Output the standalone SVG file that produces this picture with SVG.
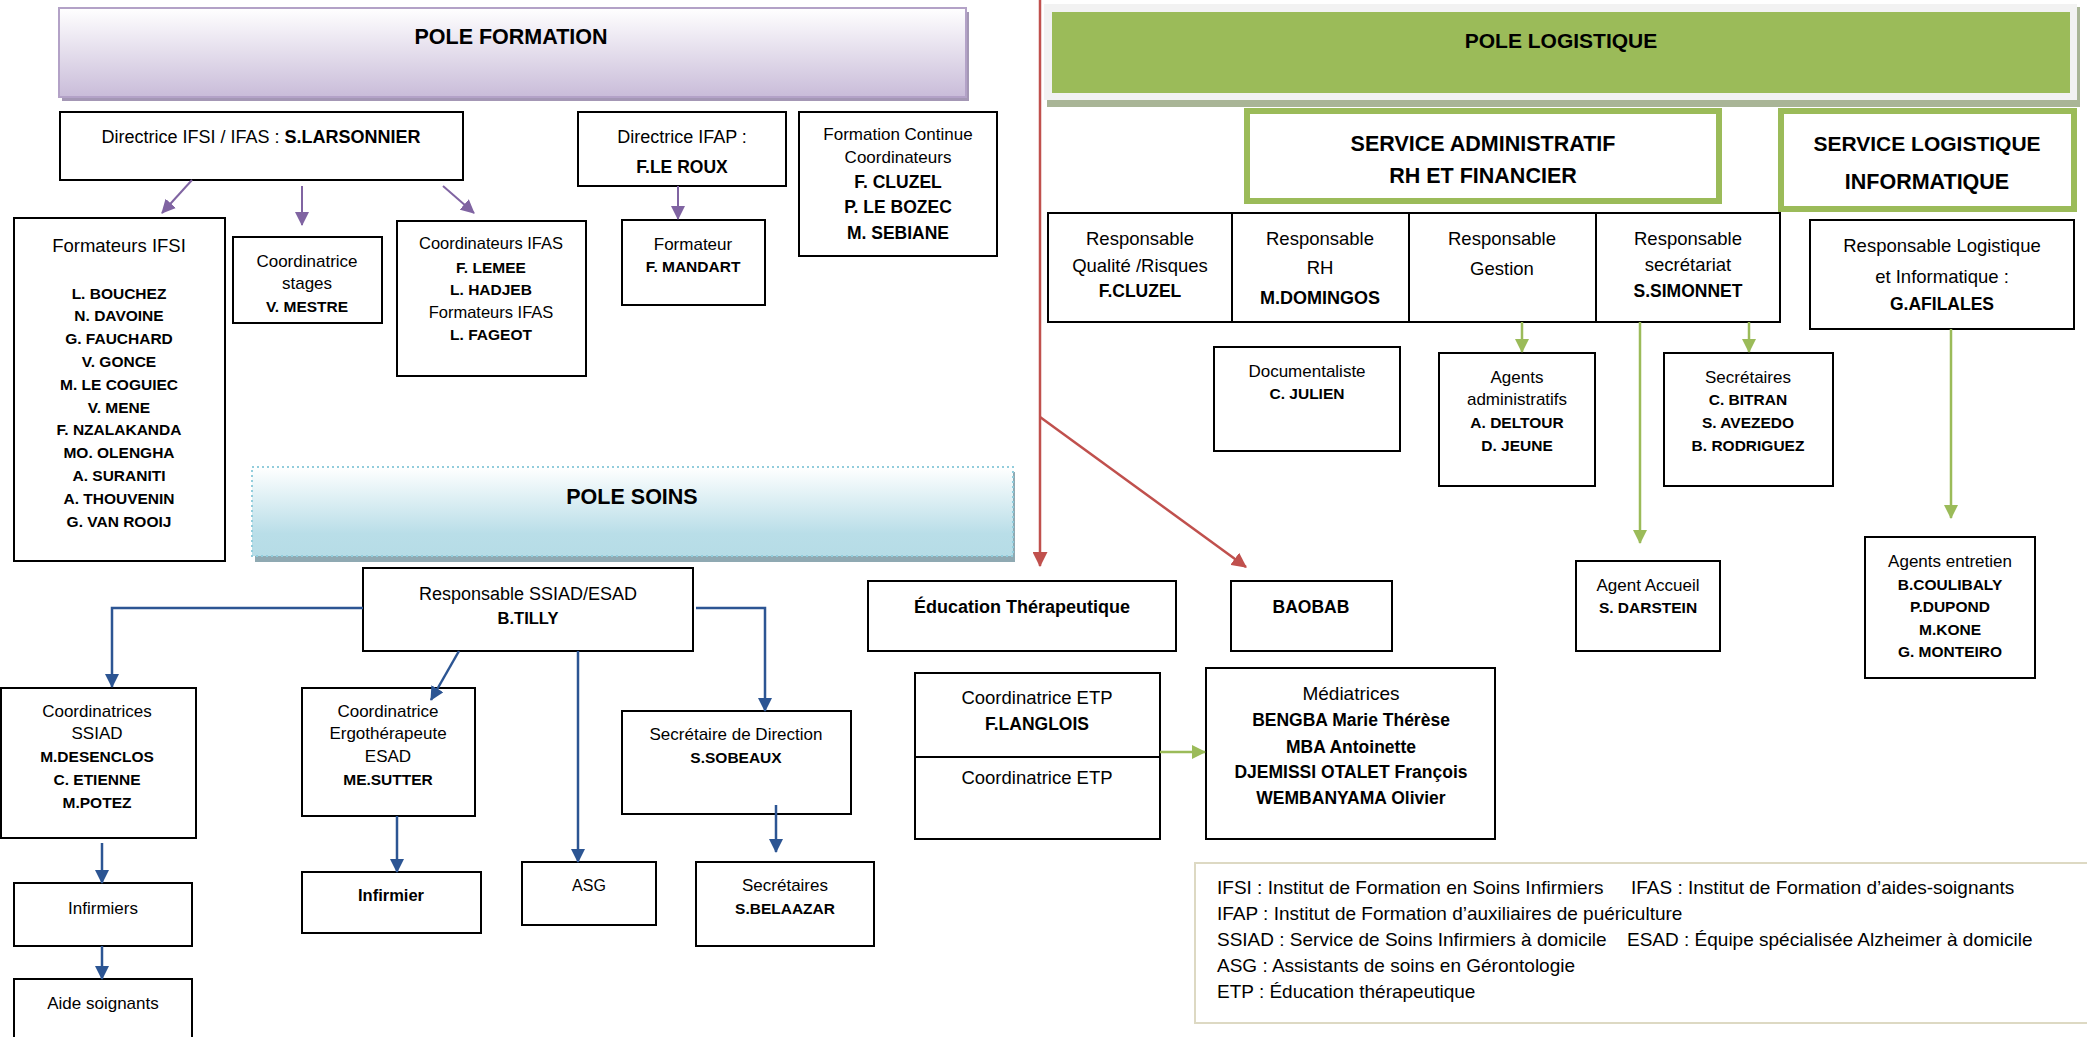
<svg xmlns="http://www.w3.org/2000/svg" width="2087" height="1037" viewBox="0 0 2087 1037">
<style>
text { font-family: "Liberation Sans", Arial, sans-serif; text-anchor: middle; fill: #000; }
.box { fill: #fff; stroke: #000; stroke-width: 2; }
.r17 { font-size: 17px; }
.r18 { font-size: 18px; }
.r19 { font-size: 18.5px; }
.b15 { font-size: 15.5px; font-weight: bold; }
.b17 { font-size: 17.5px; font-weight: bold; }
.h { font-size: 21.5px; font-weight: bold; }
.lg { font-size: 19px; text-anchor: start; }
.bold { font-weight: bold; }
.purple { stroke: #8064a2; stroke-width: 2; fill: none; marker-end: url(#ap); }
.blue { stroke: #2c5593; stroke-width: 2.5; fill: none; marker-end: url(#ab); }
.red { stroke: #c0504d; stroke-width: 2.5; fill: none; marker-end: url(#ar); }
.green { stroke: #9bbb59; stroke-width: 2.5; fill: none; marker-end: url(#ag); }
</style>
<defs>
<linearGradient id="gp" x1="0" y1="0" x2="0" y2="1"><stop offset="0" stop-color="#ffffff"/><stop offset="1" stop-color="#c9bcd9"/></linearGradient>
<linearGradient id="gb" x1="0" y1="0" x2="0" y2="1"><stop offset="0" stop-color="#ffffff"/><stop offset="0.75" stop-color="#b9dee8"/><stop offset="1" stop-color="#b6dce6"/></linearGradient>
<marker id="ap" viewBox="0 0 14 14" refX="13" refY="7" markerWidth="14" markerHeight="14" markerUnits="userSpaceOnUse" orient="auto"><path d="M0,0 L14,7 L0,14 z" fill="#8064a2"/></marker>
<marker id="ab" viewBox="0 0 14 14" refX="13" refY="7" markerWidth="14" markerHeight="14" markerUnits="userSpaceOnUse" orient="auto"><path d="M0,0 L14,7 L0,14 z" fill="#2c5593"/></marker>
<marker id="ar" viewBox="0 0 14 14" refX="13" refY="7" markerWidth="15" markerHeight="15" markerUnits="userSpaceOnUse" orient="auto"><path d="M0,0 L14,7 L0,14 z" fill="#c0504d"/></marker>
<marker id="ag" viewBox="0 0 14 14" refX="13" refY="7" markerWidth="14" markerHeight="14" markerUnits="userSpaceOnUse" orient="auto"><path d="M0,0 L14,7 L0,14 z" fill="#9bbb59"/></marker>
</defs>
<rect width="2087" height="1037" fill="#fff"/>

<!-- POLE FORMATION -->
<g id="pole-formation">
<rect x="62" y="12" width="907" height="89" fill="#a497b5"/>
<rect x="59" y="8" width="907" height="89" fill="url(#gp)" stroke="#b3a2c7" stroke-width="2"/>
<text class="h" x="511" y="43.5">POLE FORMATION</text>
</g>
<g id="directrice-ifsi">
<rect class="box" x="60" y="112" width="403" height="68"/>
<text class="r18" x="261" y="143">Directrice IFSI / IFAS : <tspan class="bold">S.LARSONNIER</tspan></text>
</g>
<g id="directrice-ifap">
<rect class="box" x="578" y="112" width="208" height="74"/>
<text class="r18" x="682" y="143">Directrice IFAP :</text>
<text class="b17" x="682" y="173">F.LE ROUX</text>
</g>
<g id="formation-continue">
<rect class="box" x="799" y="112" width="198" height="144"/>
<text class="r17" x="898" y="140">Formation Continue</text>
<text class="r17" x="898" y="163">Coordinateurs</text>
<text class="b17" x="898" y="188">F. CLUZEL</text>
<text class="b17" x="898" y="213">P. LE BOZEC</text>
<text class="b17" x="898" y="239">M. SEBIANE</text>
</g>
<g id="formateurs-ifsi">
<rect class="box" x="14" y="218" width="211" height="343"/>
<text x="119" y="252" style="font-size:18.5px">Formateurs IFSI</text>
<text class="b15" x="119" y="298.5">L. BOUCHEZ</text>
<text class="b15" x="119" y="321.3">N. DAVOINE</text>
<text class="b15" x="119" y="344.1">G. FAUCHARD</text>
<text class="b15" x="119" y="366.9">V. GONCE</text>
<text class="b15" x="119" y="389.7">M. LE COGUIEC</text>
<text class="b15" x="119" y="412.5">V. MENE</text>
<text class="b15" x="119" y="435.3">F. NZALAKANDA</text>
<text class="b15" x="119" y="458.1">MO. OLENGHA</text>
<text class="b15" x="119" y="480.9">A. SURANITI</text>
<text class="b15" x="119" y="503.7">A. THOUVENIN</text>
<text class="b15" x="119" y="526.5">G. VAN ROOIJ</text>
</g>
<g id="coordinatrice-stages">
<rect class="box" x="233" y="237" width="149" height="86"/>
<text class="r17" x="307" y="267">Coordinatrice</text>
<text class="r17" x="307" y="289">stages</text>
<text class="b15" x="307" y="311.5">V. MESTRE</text>
</g>
<g id="coordinateurs-ifas">
<rect class="box" x="397" y="221" width="189" height="155"/>
<text class="r17" x="491" y="249" style="font-size:16.5px">Coordinateurs IFAS</text>
<text class="b15" x="491" y="272.5">F. LEMEE</text>
<text class="b15" x="491" y="294.5">L. HADJEB</text>
<text class="r17" x="491" y="318" style="font-size:16.5px">Formateurs IFAS</text>
<text class="b15" x="491" y="339.5">L. FAGEOT</text>
</g>
<g id="formateur-ifap">
<rect class="box" x="622" y="220" width="143" height="85"/>
<text class="r17" x="693" y="250">Formateur</text>
<text class="b15" x="693" y="271.5">F. MANDART</text>
</g>

<!-- POLE SOINS -->
<g id="pole-soins">
<rect x="255" y="472" width="760" height="90" fill="#8fa9b2"/>
<rect x="252" y="467" width="761" height="89" fill="url(#gb)" stroke="#92cddc" stroke-width="2" stroke-dasharray="2 3"/>
<text class="h" x="632" y="503.5">POLE SOINS</text>
</g>
<g id="responsable-ssiad">
<rect class="box" x="363" y="568" width="330" height="83"/>
<text class="r18" x="528" y="599.5">Responsable SSIAD/ESAD</text>
<text class="b17" x="528" y="624" style="font-size:16.5px">B.TILLY</text>
</g>
<g id="coordinatrices-ssiad">
<rect class="box" x="1" y="688" width="195" height="150"/>
<text class="r17" x="97" y="717">Coordinatrices</text>
<text class="r17" x="97" y="739">SSIAD</text>
<text class="b15" x="97" y="761.5">M.DESENCLOS</text>
<text class="b15" x="97" y="784.5">C. ETIENNE</text>
<text class="b15" x="97" y="807.5">M.POTEZ</text>
</g>
<g id="infirmiers">
<rect class="box" x="14" y="883" width="178" height="63"/>
<text class="r17" x="103" y="914">Infirmiers</text>
</g>
<g id="aide-soignants">
<rect class="box" x="14" y="979" width="178" height="70"/>
<text class="r17" x="103" y="1009">Aide soignants</text>
</g>
<g id="coordinatrice-ergo">
<rect class="box" x="302" y="688" width="173" height="128"/>
<text class="r17" x="388" y="717">Coordinatrice</text>
<text class="r17" x="388" y="739">Ergothérapeute</text>
<text class="r17" x="388" y="762">ESAD</text>
<text class="b15" x="388" y="784.5">ME.SUTTER</text>
</g>
<g id="infirmier">
<rect class="box" x="302" y="872" width="179" height="61"/>
<text x="391" y="901" style="font-size:16.5px;font-weight:bold">Infirmier</text>
</g>
<g id="asg">
<rect class="box" x="522" y="862" width="134" height="63"/>
<text class="r17" x="589" y="891" style="font-size:16px">ASG</text>
</g>
<g id="secretaire-direction">
<rect class="box" x="622" y="711" width="229" height="103"/>
<text class="r17" x="736" y="740">Secrétaire de Direction</text>
<text class="b15" x="736" y="762.5">S.SOBEAUX</text>
</g>
<g id="secretaires-soins">
<rect class="box" x="696" y="862" width="178" height="84"/>
<text class="r17" x="785" y="891">Secrétaires</text>
<text class="b15" x="785" y="913.5">S.BELAAZAR</text>
</g>

<!-- POLE LOGISTIQUE -->
<g id="pole-logistique">
<rect x="1047" y="7" width="1033" height="100" fill="#a9b596"/>
<rect x="1044" y="4" width="1033" height="96" fill="#f2f2f2"/>
<rect x="1052" y="12" width="1018" height="81" fill="#9bbb59"/>
<text class="h" x="1561" y="47.5" style="font-size:21px">POLE LOGISTIQUE</text>
</g>
<g id="service-administratif">
<rect x="1247" y="111" width="472" height="90" fill="#fff" stroke="#9bbb59" stroke-width="6"/>
<text class="h" x="1483" y="150.5">SERVICE ADMINISTRATIF</text>
<text class="h" x="1483" y="183">RH ET FINANCIER</text>
</g>
<g id="service-logistique">
<rect x="1781" y="111" width="293" height="98" fill="#fff" stroke="#9bbb59" stroke-width="6"/>
<text class="h" x="1927" y="150.5" style="font-size:21px">SERVICE LOGISTIQUE</text>
<text class="h" x="1927" y="188.5" style="font-size:21.5px">INFORMATIQUE</text>
</g>
<g id="responsable-qualite">
<rect class="box" x="1048" y="213" width="184" height="109"/>
<text class="r19" x="1140" y="244.5">Responsable</text>
<text class="r19" x="1140" y="271.5">Qualité /Risques</text>
<text class="b17" x="1140" y="297">F.CLUZEL</text>
</g>
<g id="responsable-rh">
<rect class="box" x="1232" y="213" width="177" height="109"/>
<text class="r19" x="1320" y="244.5">Responsable</text>
<text class="r19" x="1320" y="274">RH</text>
<text class="b17" x="1320" y="304" style="font-size:18px">M.DOMINGOS</text>
</g>
<g id="responsable-gestion">
<rect class="box" x="1409" y="213" width="187" height="109"/>
<text class="r19" x="1502" y="244.5">Responsable</text>
<text class="r19" x="1502" y="275">Gestion</text>
</g>
<g id="responsable-secretariat">
<rect class="box" x="1596" y="213" width="184" height="109"/>
<text class="r19" x="1688" y="244.5">Responsable</text>
<text class="r19" x="1688" y="271">secrétariat</text>
<text class="b17" x="1688" y="297">S.SIMONNET</text>
</g>
<g id="responsable-logistique">
<rect class="box" x="1810" y="220" width="264" height="109"/>
<text class="r19" x="1942" y="251.5">Responsable Logistique</text>
<text class="r19" x="1942" y="282.5">et Informatique :</text>
<text class="b17" x="1942" y="310">G.AFILALES</text>
</g>
<g id="documentaliste">
<rect class="box" x="1214" y="347" width="186" height="104"/>
<text class="r17" x="1307" y="377">Documentaliste</text>
<text class="b15" x="1307" y="399">C. JULIEN</text>
</g>
<g id="agents-administratifs">
<rect class="box" x="1439" y="353" width="156" height="133"/>
<text class="r17" x="1517" y="383">Agents</text>
<text class="r17" x="1517" y="405">administratifs</text>
<text class="b15" x="1517" y="428">A. DELTOUR</text>
<text class="b15" x="1517" y="451">D. JEUNE</text>
</g>
<g id="secretaires-log">
<rect class="box" x="1664" y="353" width="169" height="133"/>
<text class="r17" x="1748" y="383">Secrétaires</text>
<text class="b15" x="1748" y="405">C. BITRAN</text>
<text class="b15" x="1748" y="428">S. AVEZEDO</text>
<text class="b15" x="1748" y="451">B. RODRIGUEZ</text>
</g>
<g id="agent-accueil">
<rect class="box" x="1576" y="561" width="144" height="90"/>
<text class="r17" x="1648" y="591">Agent Accueil</text>
<text class="b15" x="1648" y="613">S. DARSTEIN</text>
</g>
<g id="agents-entretien">
<rect class="box" x="1865" y="537" width="170" height="141"/>
<text class="r17" x="1950" y="567">Agents entretien</text>
<text class="b15" x="1950" y="590">B.COULIBALY</text>
<text class="b15" x="1950" y="612">P.DUPOND</text>
<text class="b15" x="1950" y="635">M.KONE</text>
<text class="b15" x="1950" y="657">G. MONTEIRO</text>
</g>
<g id="education-therapeutique">
<rect class="box" x="868" y="581" width="308" height="70"/>
<text class="b17" x="1022" y="613" style="font-size:18px">Éducation Thérapeutique</text>
</g>
<g id="baobab">
<rect class="box" x="1231" y="581" width="161" height="70"/>
<text class="b17" x="1311" y="613">BAOBAB</text>
</g>
<g id="coordinatrice-etp">
<rect class="box" x="915" y="673" width="245" height="166"/>
<line x1="915" y1="757" x2="1160" y2="757" stroke="#000" stroke-width="2"/>
<text class="r19" x="1037" y="704">Coordinatrice ETP</text>
<text class="b17" x="1037" y="730">F.LANGLOIS</text>
<text class="r19" x="1037" y="784">Coordinatrice ETP</text>
</g>
<g id="mediatrices">
<rect class="box" x="1206" y="668" width="289" height="171"/>
<text class="r19" x="1351" y="700" style="font-size:19px">Médiatrices</text>
<text class="b17" x="1351" y="726">BENGBA Marie Thérèse</text>
<text class="b17" x="1351" y="752.5">MBA Antoinette</text>
<text class="b17" x="1351" y="778">DJEMISSI OTALET François</text>
<text class="b17" x="1351" y="804">WEMBANYAMA Olivier</text>
</g>
<g id="legende">
<rect x="1195" y="863" width="900" height="160" fill="#fff" stroke="#ddd9c3" stroke-width="2"/>
<text class="lg" x="1217" y="894">IFSI : Institut de Formation en Soins Infirmiers</text>
<text class="lg" x="1631" y="894">IFAS : Institut de Formation d’aides-soignants</text>
<text class="lg" x="1217" y="920">IFAP : Institut de Formation d’auxiliaires de puériculture</text>
<text class="lg" x="1217" y="946">SSIAD : Service de Soins Infirmiers à domicile</text>
<text class="lg" x="1627" y="946">ESAD : Équipe spécialisée Alzheimer à domicile</text>
<text class="lg" x="1217" y="972">ASG : Assistants de soins en Gérontologie</text>
<text class="lg" x="1217" y="998">ETP : Éducation thérapeutique</text>
</g>

<!-- CONNECTORS -->
<g id="connectors">
<line class="purple" x1="192" y1="180" x2="162" y2="213"/>
<line class="purple" x1="302" y1="186" x2="302" y2="225"/>
<line class="purple" x1="443" y1="186" x2="474" y2="213"/>
<line class="purple" x1="678" y1="186" x2="678" y2="219"/>

<polyline class="blue" points="363,608 112,608 112,687"/>
<polyline class="blue" points="696,608 765,608 765,711"/>
<line class="blue" x1="459" y1="651" x2="431" y2="700"/>
<line class="blue" x1="578" y1="651" x2="578" y2="862"/>
<line class="blue" x1="102" y1="843" x2="102" y2="883"/>
<line class="blue" x1="102" y1="946" x2="102" y2="979"/>
<line class="blue" x1="397" y1="816" x2="397" y2="872"/>
<line class="blue" x1="776" y1="805" x2="776" y2="852"/>

<line class="red" x1="1040" y1="0" x2="1040" y2="566"/>
<line class="red" x1="1040" y1="417" x2="1246" y2="567"/>

<line class="green" x1="1522" y1="322" x2="1522" y2="352"/>
<line class="green" x1="1749" y1="322" x2="1749" y2="352"/>
<line class="green" x1="1640" y1="322" x2="1640" y2="543"/>
<line class="green" x1="1951" y1="329" x2="1951" y2="518"/>
<line class="green" x1="1160" y1="752" x2="1205" y2="752"/>
</g>
</svg>
